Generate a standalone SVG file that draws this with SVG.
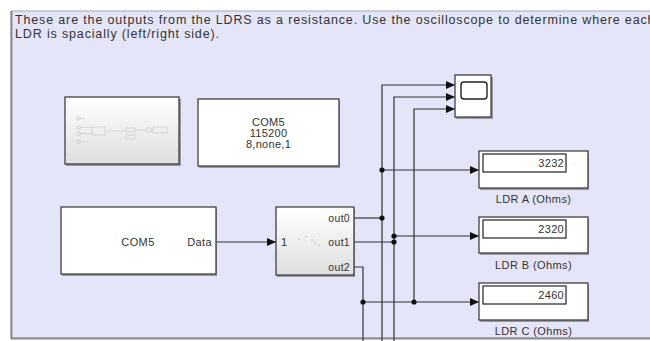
<svg xmlns="http://www.w3.org/2000/svg" width="650" height="341" viewBox="0 0 650 341">
<defs>
<style>
.blk{fill:#fff;stroke:#404040;stroke-width:1.3}
.shd{fill:#9a9a9a}
.grd{fill:url(#g);stroke:#404040;stroke-width:1.3}
.t{font-family:"Liberation Sans",Arial,sans-serif;fill:#333}
.ln{fill:none;stroke:#333;stroke-width:1.2}
.dot{fill:#111}
.faint{fill:none;stroke:#cfcfcf;stroke-width:0.8}
</style>
<linearGradient id="g" x1="0" y1="0" x2="0" y2="1">
<stop offset="0" stop-color="#ffffff"/>
<stop offset="1" stop-color="#dedede"/>
</linearGradient>
<marker id="ar" markerWidth="9" markerHeight="8" refX="9" refY="4" orient="auto" markerUnits="userSpaceOnUse">
<path d="M0,0 L9,4 L0,8 Z" fill="#111"/>
</marker>
</defs>
<rect x="0" y="0" width="650" height="341" fill="#fff"/>
<g id="annotation">
<rect x="11" y="11" width="660" height="327" fill="#e5e5fa" stroke="#a8a8a8" stroke-width="1"/>
<line x1="11.5" y1="11" x2="11.5" y2="339" stroke="#8c8c8c" stroke-width="2"/>
<line x1="11" y1="338.5" x2="650" y2="338.5" stroke="#8c8c8c" stroke-width="2"/>
<text class="t" x="15" y="24" font-size="12.5" letter-spacing="0.85">These are the outputs from the LDRS as a resistance. Use the oscilloscope to determine where each</text>
<text class="t" x="15" y="38" font-size="12.5" letter-spacing="0.85">LDR is spacially (left/right side).</text>
</g>
<g id="connectors">
<path class="ln" d="M216,242 H276" marker-end="url(#ar)"/>
<path class="ln" d="M354,218 H382"/>
<path class="ln" d="M382,341 V85 H455" marker-end="url(#ar)"/>
<path class="ln" d="M382,170 H479" marker-end="url(#ar)"/>
<path class="ln" d="M354,242 H394"/>
<path class="ln" d="M394,341 V97 H455" marker-end="url(#ar)"/>
<path class="ln" d="M394,236 H479" marker-end="url(#ar)"/>
<path class="ln" d="M354,267 H363 V341"/>
<path class="ln" d="M363,302 H479" marker-end="url(#ar)"/>
<path class="ln" d="M414,302 V109 H455" marker-end="url(#ar)"/>
<circle class="dot" cx="382" cy="218" r="2.6"/>
<circle class="dot" cx="382" cy="170" r="2.6"/>
<circle class="dot" cx="394" cy="242" r="2.6"/>
<circle class="dot" cx="394" cy="236" r="2.6"/>
<circle class="dot" cx="363" cy="302" r="2.6"/>
<circle class="dot" cx="414" cy="302" r="2.6"/>
</g>
<g id="subsystem">
<rect class="shd" x="66" y="99" width="115" height="67"/>
<rect class="grd" x="65" y="97" width="114" height="67"/>
<g class="faint">
<rect x="77" y="117" width="3" height="3"/><line x1="80" y1="118.5" x2="85" y2="118.5"/>
<rect x="77" y="126" width="3" height="3"/><line x1="80" y1="127.5" x2="92" y2="127.5"/>
<rect x="77" y="132" width="3" height="3"/><line x1="80" y1="133.5" x2="92" y2="133.5"/>
<rect x="77" y="140" width="3" height="3"/><line x1="80" y1="141.5" x2="85" y2="141.5"/>
<rect x="92" y="127" width="13" height="8"/><line x1="105" y1="131" x2="126" y2="131"/>
<rect x="126" y="128" width="9" height="4"/><rect x="126" y="135" width="9" height="4"/>
<line x1="135" y1="130" x2="147" y2="130"/><rect x="147" y="128" width="4" height="4"/>
<line x1="151" y1="130" x2="153" y2="130"/><rect x="153" y="127" width="14" height="6"/>
</g>
</g>
<g id="serial_config">
<rect class="shd" x="199" y="101" width="141" height="67"/>
<rect class="blk" x="198" y="99" width="141" height="67"/>
<text class="t" x="268.5" y="126" font-size="11" text-anchor="middle" letter-spacing="0.3">COM5</text>
<text class="t" x="268.5" y="137" font-size="11" text-anchor="middle" letter-spacing="0.3">115200</text>
<text class="t" x="268.5" y="148" font-size="11" text-anchor="middle" letter-spacing="0.3">8,none,1</text>
</g>
<g id="serial_receive">
<rect class="shd" x="62" y="209" width="155" height="67"/>
<rect class="blk" x="61" y="207" width="155" height="67"/>
<text class="t" x="138" y="246" font-size="11" text-anchor="middle" letter-spacing="0.4">COM5</text>
<text class="t" x="212" y="246" font-size="11" text-anchor="end" letter-spacing="0.4">Data</text>
</g>
<g id="demux">
<rect class="shd" x="277" y="209" width="78" height="68"/>
<rect class="grd" x="276" y="207" width="78" height="68"/>
<text class="t" x="281" y="246" font-size="11">1</text>
<g fill="#d6d6d6">
<rect x="298" y="238" width="2" height="2"/><rect x="305" y="236" width="2" height="2"/>
<rect x="311" y="239" width="2" height="2"/><rect x="314" y="242" width="2" height="2"/>
<rect x="318" y="244" width="2" height="2"/>
</g>
<text class="t" x="350" y="222" font-size="10.5" text-anchor="end" letter-spacing="0.3">out0</text>
<text class="t" x="350" y="246" font-size="10.5" text-anchor="end" letter-spacing="0.3">out1</text>
<text class="t" x="350" y="271" font-size="10.5" text-anchor="end" letter-spacing="0.3">out2</text>
</g>
<g id="scope">
<rect class="shd" x="456" y="77" width="37" height="42"/>
<rect class="blk" x="455" y="75" width="36" height="42"/>
<rect x="461" y="82" width="26" height="17" rx="3" fill="#fff" stroke="#222" stroke-width="1.4"/>
</g>
<g id="ldr_a">
<rect class="shd" x="480" y="153" width="109" height="37"/>
<rect class="blk" x="479" y="151" width="109" height="37"/>
<rect x="483" y="154" width="83" height="18" fill="#fff" stroke="#222" stroke-width="1.2"/>
<text class="t" x="564" y="167" font-size="11" text-anchor="end" letter-spacing="0.3">3232</text>
<text class="t" x="533.5" y="203" font-size="11" text-anchor="middle" letter-spacing="0.4">LDR A (Ohms)</text>
</g>
<g id="ldr_b">
<rect class="shd" x="480" y="219" width="109" height="36"/>
<rect class="blk" x="479" y="217" width="109" height="36"/>
<rect x="483" y="220" width="83" height="18" fill="#fff" stroke="#222" stroke-width="1.2"/>
<text class="t" x="564" y="233" font-size="11" text-anchor="end" letter-spacing="0.3">2320</text>
<text class="t" x="533.5" y="269" font-size="11" text-anchor="middle" letter-spacing="0.4">LDR B (Ohms)</text>
</g>
<g id="ldr_c">
<rect class="shd" x="480" y="285" width="109" height="37"/>
<rect class="blk" x="479" y="283" width="109" height="37"/>
<rect x="483" y="286" width="83" height="18" fill="#fff" stroke="#222" stroke-width="1.2"/>
<text class="t" x="564" y="299" font-size="11" text-anchor="end" letter-spacing="0.3">2460</text>
<text class="t" x="533.5" y="335" font-size="11" text-anchor="middle" letter-spacing="0.4">LDR C (Ohms)</text>
</g>
</svg>
